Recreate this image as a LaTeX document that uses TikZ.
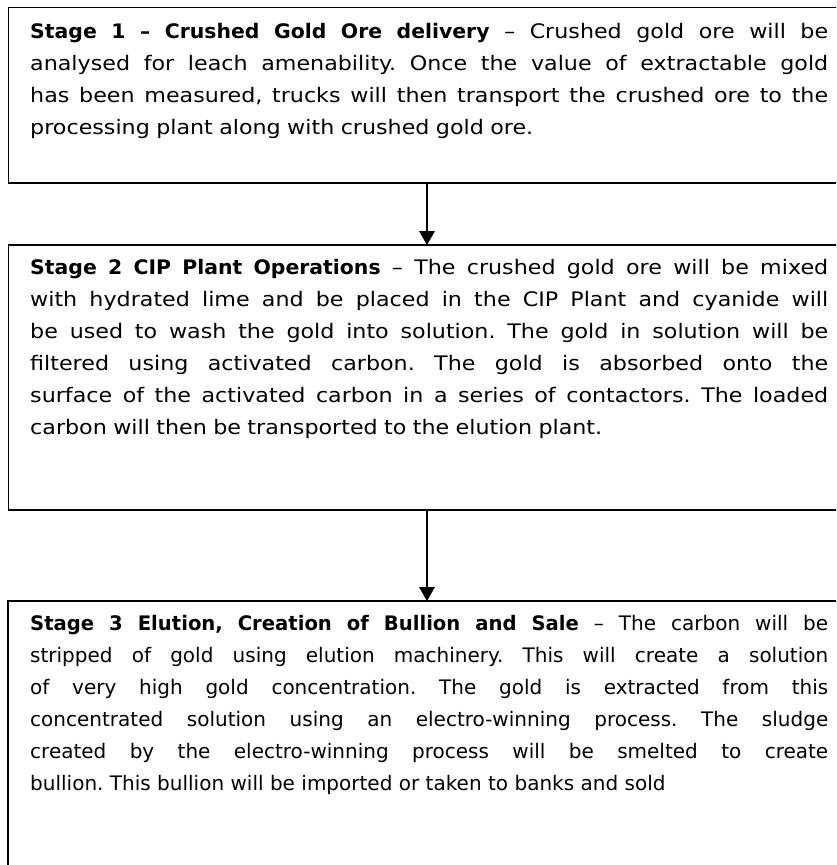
\documentclass[tikz,border=0pt]{standalone}
\usepackage{fontspec}
\setmainfont[UprightFeatures={FakeStretch=1.11}, BoldFeatures={FakeStretch=1.02}]{DejaVu Sans}
\newfontfamily\condfont[UprightFeatures={FakeStretch=1.0}, BoldFeatures={FakeStretch=0.98}]{DejaVu Sans}
\usetikzlibrary{arrows.meta}
\newcommand{\loosespaces}{\spaceskip=0.32em plus 0.6em minus 0.12em\relax}
\tikzset{
  stagebox/.style={draw=black, line width=1.9pt, rectangle, inner sep=0pt, anchor=north west},
  stagetext/.style={anchor=base west, inner sep=0pt, text width=798pt, align=justify,
    font=\fontsize{20}{32}\selectfont\frenchspacing\loosespaces},
  flow/.style={draw=black, line width=1.9pt, -{Triangle[width=15.5pt,length=14pt]}, shorten >=-1pt}
}
\begin{document}
\begin{tikzpicture}[x=1pt,y=1pt]
\useasboundingbox (0,0) rectangle (836,-865);
\clip (0,0) rectangle (836,-865);
\node[stagebox, minimum width=840pt, minimum height=175.5pt] (b1) at (7.5,-6.5) {};
\node[stagebox, minimum width=840pt, minimum height=265pt] (b2) at (7.5,-244) {};
\node[stagebox, minimum width=840pt, minimum height=280pt] (b3) at (7,-600) {};
\node[stagetext] (t1) at (30,-38) {\textbf{Stage 1 – Crushed Gold Ore delivery} – Crushed gold ore will be\linebreak analysed for leach amenability. Once the value of extractable gold\linebreak has been measured, trucks will then transport the crushed ore to the\linebreak processing plant along with crushed gold ore.};
\node[stagetext] (t2) at (30,-274.5) {\textbf{Stage 2 CIP Plant Operations} – The crushed gold ore will be mixed\linebreak with hydrated lime and be placed in the CIP Plant and cyanide will\linebreak be used to wash the gold into solution. The gold in solution will be\linebreak filtered using activated carbon. The gold is absorbed onto the\linebreak surface of the activated carbon in a series of contactors. The loaded\linebreak carbon will then be transported to the elution plant.};
\node[stagetext] (t3) at (30,-630.5) {\condfont\loosespaces\textbf{Stage 3 Elution, Creation of Bullion and Sale} – The carbon will be\linebreak stripped of gold using elution machinery. This will create a solution\linebreak of very high gold concentration. The gold is extracted from this\linebreak concentrated solution using an electro-winning process. The sludge\linebreak created by the electro-winning process will be smelted to create\linebreak bullion. This bullion will be imported or taken to banks and sold};
\draw[flow] (b1.south west -| 427,0) -- (b2.north west -| 427,0);
\draw[flow] (b2.south west -| 427,0) -- (b3.north west -| 427,0);
\end{tikzpicture}
\end{document}
